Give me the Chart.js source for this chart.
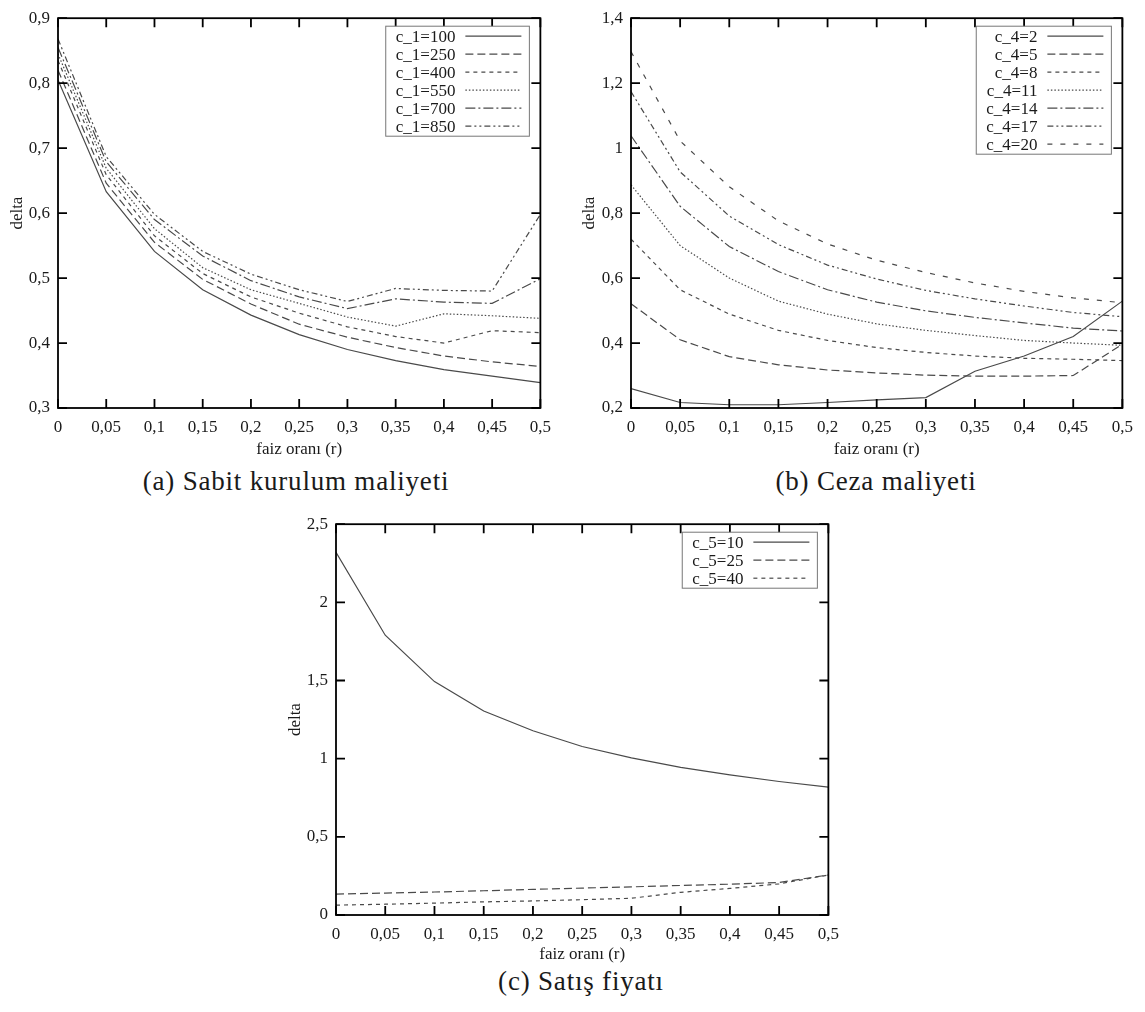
<!DOCTYPE html>
<html>
<head>
<meta charset="utf-8">
<script src="https://cdn.jsdelivr.net/npm/chart.js@4.4.0/dist/chart.umd.min.js"></script>
<style>
  body { margin: 0; background: #fff; width: 1145px; height: 1012px; position: relative; overflow: hidden; }
  .box { position: absolute; }
  .cap { position: absolute; font-family: "Liberation Serif", "DejaVu Serif", serif; font-size: 27px; letter-spacing: 0.8px; line-height: 31px; color: #1a1a1a; transform: translateX(-50%); white-space: nowrap; }
</style>
</head>
<body>
<div class="box" style="left:0px;top:0px;width:560px;height:460px"><canvas id="grafA"></canvas></div>
<div class="box" style="left:572px;top:0px;width:570px;height:460px"><canvas id="grafB"></canvas></div>
<div class="box" style="left:278px;top:506px;width:570px;height:459px"><canvas id="grafC"></canvas></div>
<div class="cap" style="left:296px;top:466px">(a) Sabit kurulum maliyeti</div>
<div class="cap" style="left:876px;top:466px">(b) Ceza maliyeti</div>
<div class="cap" style="left:581px;top:966px">(c) Satış fiyatı</div>
<script>
// eixo x comum: faiz oranı (r)
var oranlar = [0, 0.05, 0.1, 0.15, 0.2, 0.25, 0.3, 0.35, 0.4, 0.45, 0.5];

// (a) Sabit kurulum maliyeti
var c1_100 = [0.805, 0.633, 0.541, 0.482, 0.443, 0.413, 0.390, 0.373, 0.359, 0.349, 0.339];
var c1_250 = [0.820, 0.646, 0.555, 0.498, 0.460, 0.429, 0.409, 0.393, 0.380, 0.371, 0.364];
var c1_400 = [0.835, 0.659, 0.565, 0.507, 0.471, 0.446, 0.425, 0.410, 0.400, 0.419, 0.416];
var c1_550 = [0.845, 0.669, 0.576, 0.516, 0.482, 0.461, 0.440, 0.426, 0.445, 0.442, 0.438];
var c1_700 = [0.855, 0.679, 0.590, 0.534, 0.496, 0.471, 0.453, 0.468, 0.463, 0.461, 0.499];
var c1_850 = [0.868, 0.687, 0.598, 0.541, 0.506, 0.482, 0.464, 0.484, 0.481, 0.480, 0.598];

// (b) Ceza maliyeti
var c4_2  = [0.260, 0.217, 0.210, 0.210, 0.217, 0.225, 0.232, 0.313, 0.360, 0.420, 0.529];
var c4_5  = [0.521, 0.410, 0.358, 0.333, 0.317, 0.308, 0.301, 0.298, 0.298, 0.300, 0.396];
var c4_8  = [0.720, 0.564, 0.489, 0.439, 0.408, 0.386, 0.371, 0.360, 0.353, 0.350, 0.346];
var c4_11 = [0.887, 0.700, 0.600, 0.529, 0.489, 0.459, 0.439, 0.423, 0.408, 0.400, 0.393];
var c4_14 = [1.038, 0.821, 0.697, 0.620, 0.564, 0.526, 0.499, 0.479, 0.462, 0.446, 0.437];
var c4_17 = [1.174, 0.927, 0.791, 0.703, 0.640, 0.597, 0.562, 0.536, 0.514, 0.494, 0.481];
var c4_20 = [1.297, 1.022, 0.881, 0.776, 0.705, 0.655, 0.617, 0.585, 0.559, 0.539, 0.524];

// (c) Satış fiyatı
var c5_10 = [2.320, 1.790, 1.493, 1.305, 1.179, 1.078, 1.005, 0.944, 0.896, 0.854, 0.818];
var c5_25 = [0.134, 0.140, 0.147, 0.155, 0.164, 0.172, 0.180, 0.189, 0.197, 0.208, 0.256];
var c5_40 = [0.063, 0.069, 0.076, 0.084, 0.090, 0.098, 0.107, 0.145, 0.170, 0.199, 0.256];

// tipos de traço (estilo gnuplot)
var tracos = {
  cheio: [],
  longo: [8, 4],
  curto: [4, 4],
  ponto: [1.5, 2],
  pontoTraco: [10, 3, 2, 3],
  pontoPonto: [6, 3, 2, 3, 2, 3],
  espaco: [5, 8]
};

var fonte = '"Liberation Serif", "DejaVu Serif", serif';
var corTexto = '#1a1a1a';
var corLinha = '#4a4a4a';

function virgula(v) {
  return Number(v.toFixed(2)).toString().replace('.', ',');
}

function serie(label, valores, dash) {
  return {
    label: label,
    data: valores.map(function (v, i) { return { x: oranlar[i], y: v }; }),
    borderColor: corLinha,
    borderWidth: 1.2,
    borderDash: dash,
    pointRadius: 0,
    fill: false,
    tension: 0
  };
}

// moldura + marcas para dentro nos 4 lados
var moldura = {
  id: 'moldura',
  afterDraw: function (chart) {
    var ctx = chart.ctx, a = chart.chartArea;
    var sx = chart.scales.x, sy = chart.scales.y;
    var tl = 9;
    ctx.save();
    ctx.strokeStyle = '#000';
    ctx.lineWidth = 1.8;
    ctx.setLineDash([]);
    ctx.strokeRect(a.left, a.top, a.right - a.left, a.bottom - a.top);
    ctx.beginPath();
    sx.ticks.forEach(function (t) {
      var px = sx.getPixelForValue(t.value);
      ctx.moveTo(px, a.bottom); ctx.lineTo(px, a.bottom - tl);
      ctx.moveTo(px, a.top); ctx.lineTo(px, a.top + tl);
    });
    sy.ticks.forEach(function (t) {
      var py = sy.getPixelForValue(t.value);
      ctx.moveTo(a.left, py); ctx.lineTo(a.left + tl, py);
      ctx.moveTo(a.right, py); ctx.lineTo(a.right - tl, py);
    });
    ctx.stroke();
    ctx.restore();
  }
};

// legenda à direita em cima, texto alinhado à direita e amostra depois
var legenda = {
  id: 'legenda',
  afterDraw: function (chart) {
    var ctx = chart.ctx, a = chart.chartArea;
    var ds = chart.data.datasets;
    var lin = 18;
    ctx.save();
    ctx.font = '17px ' + fonte;
    var larg = 0;
    ds.forEach(function (d) { larg = Math.max(larg, ctx.measureText(d.label).width); });
    var amostra = 56, gap = 10, pad = 10;
    var w = pad + larg + gap + amostra + 8;
    var h = ds.length * lin + 2;
    var x0 = a.right - 11 - w, y0 = a.top + 8;
    ctx.fillStyle = '#fff';
    ctx.fillRect(x0, y0, w, h);
    ctx.strokeStyle = '#777';
    ctx.lineWidth = 1;
    ctx.strokeRect(x0, y0, w, h);
    ctx.textAlign = 'right';
    ctx.textBaseline = 'middle';
    ds.forEach(function (d, i) {
      var yy = y0 + 1 + lin * (i + 0.5);
      ctx.fillStyle = corTexto;
      ctx.fillText(d.label, x0 + pad + larg, yy + 1);
      ctx.beginPath();
      ctx.strokeStyle = corLinha;
      ctx.lineWidth = 1.2;
      ctx.setLineDash(d.borderDash);
      ctx.moveTo(x0 + pad + larg + gap, yy);
      ctx.lineTo(x0 + pad + larg + gap + amostra, yy);
      ctx.stroke();
    });
    ctx.restore();
  }
};

function grafico(id, datasets, ymin, ymax, ypasso, yLarg, xAlt, padDir) {
  return new Chart(document.getElementById(id), {
    type: 'line',
    data: { datasets: datasets },
    plugins: [moldura, legenda],
    options: {
      responsive: true,
      maintainAspectRatio: false,
      animation: false,
      layout: { padding: { top: 12, right: padDir, left: 0, bottom: 0 } },
      plugins: {
        legend: { display: false },
        tooltip: { enabled: false }
      },
      scales: {
        x: {
          type: 'linear',
          min: 0, max: 0.5,
          grid: { display: false, drawTicks: false },
          border: { display: false },
          ticks: {
            stepSize: 0.05,
            padding: 9,
            color: corTexto,
            font: { family: fonte, size: 17 },
            maxRotation: 0,
            autoSkip: false,
            callback: function (v) { return virgula(v); }
          },
          title: {
            display: true,
            text: 'faiz oranı (r)',
            color: corTexto,
            font: { family: fonte, size: 17 },
            padding: { top: 0, bottom: 0 }
          },
          afterFit: function (s) { s.height = xAlt; }
        },
        y: {
          min: ymin, max: ymax,
          grid: { display: false, drawTicks: false },
          border: { display: false },
          ticks: {
            stepSize: ypasso,
            padding: 8,
            color: corTexto,
            font: { family: fonte, size: 17 },
            callback: function (v) { return virgula(v); }
          },
          title: {
            display: true,
            text: 'delta',
            color: corTexto,
            font: { family: fonte, size: 17 },
            padding: { top: 7, bottom: 0 }
          },
          afterFit: function (s) { s.width = yLarg; }
        }
      }
    }
  });
}

grafico('grafA', [
  serie('c_1=100', c1_100, tracos.cheio),
  serie('c_1=250', c1_250, tracos.longo),
  serie('c_1=400', c1_400, tracos.curto),
  serie('c_1=550', c1_550, tracos.ponto),
  serie('c_1=700', c1_700, tracos.pontoTraco),
  serie('c_1=850', c1_850, tracos.pontoPonto)
], 0.3, 0.9, 0.1, 58, 52, 18);

grafico('grafB', [
  serie('c_4=2', c4_2, tracos.cheio),
  serie('c_4=5', c4_5, tracos.longo),
  serie('c_4=8', c4_8, tracos.curto),
  serie('c_4=11', c4_11, tracos.ponto),
  serie('c_4=14', c4_14, tracos.pontoTraco),
  serie('c_4=17', c4_17, tracos.pontoPonto),
  serie('c_4=20', c4_20, tracos.espaco)
], 0.2, 1.4, 0.2, 59, 52, 17);

grafico('grafC', [
  serie('c_5=10', c5_10, tracos.cheio),
  serie('c_5=25', c5_25, tracos.longo),
  serie('c_5=40', c5_40, tracos.curto)
], 0, 2.5, 0.5, 58, 50, 19);
</script>
</body>
</html>
